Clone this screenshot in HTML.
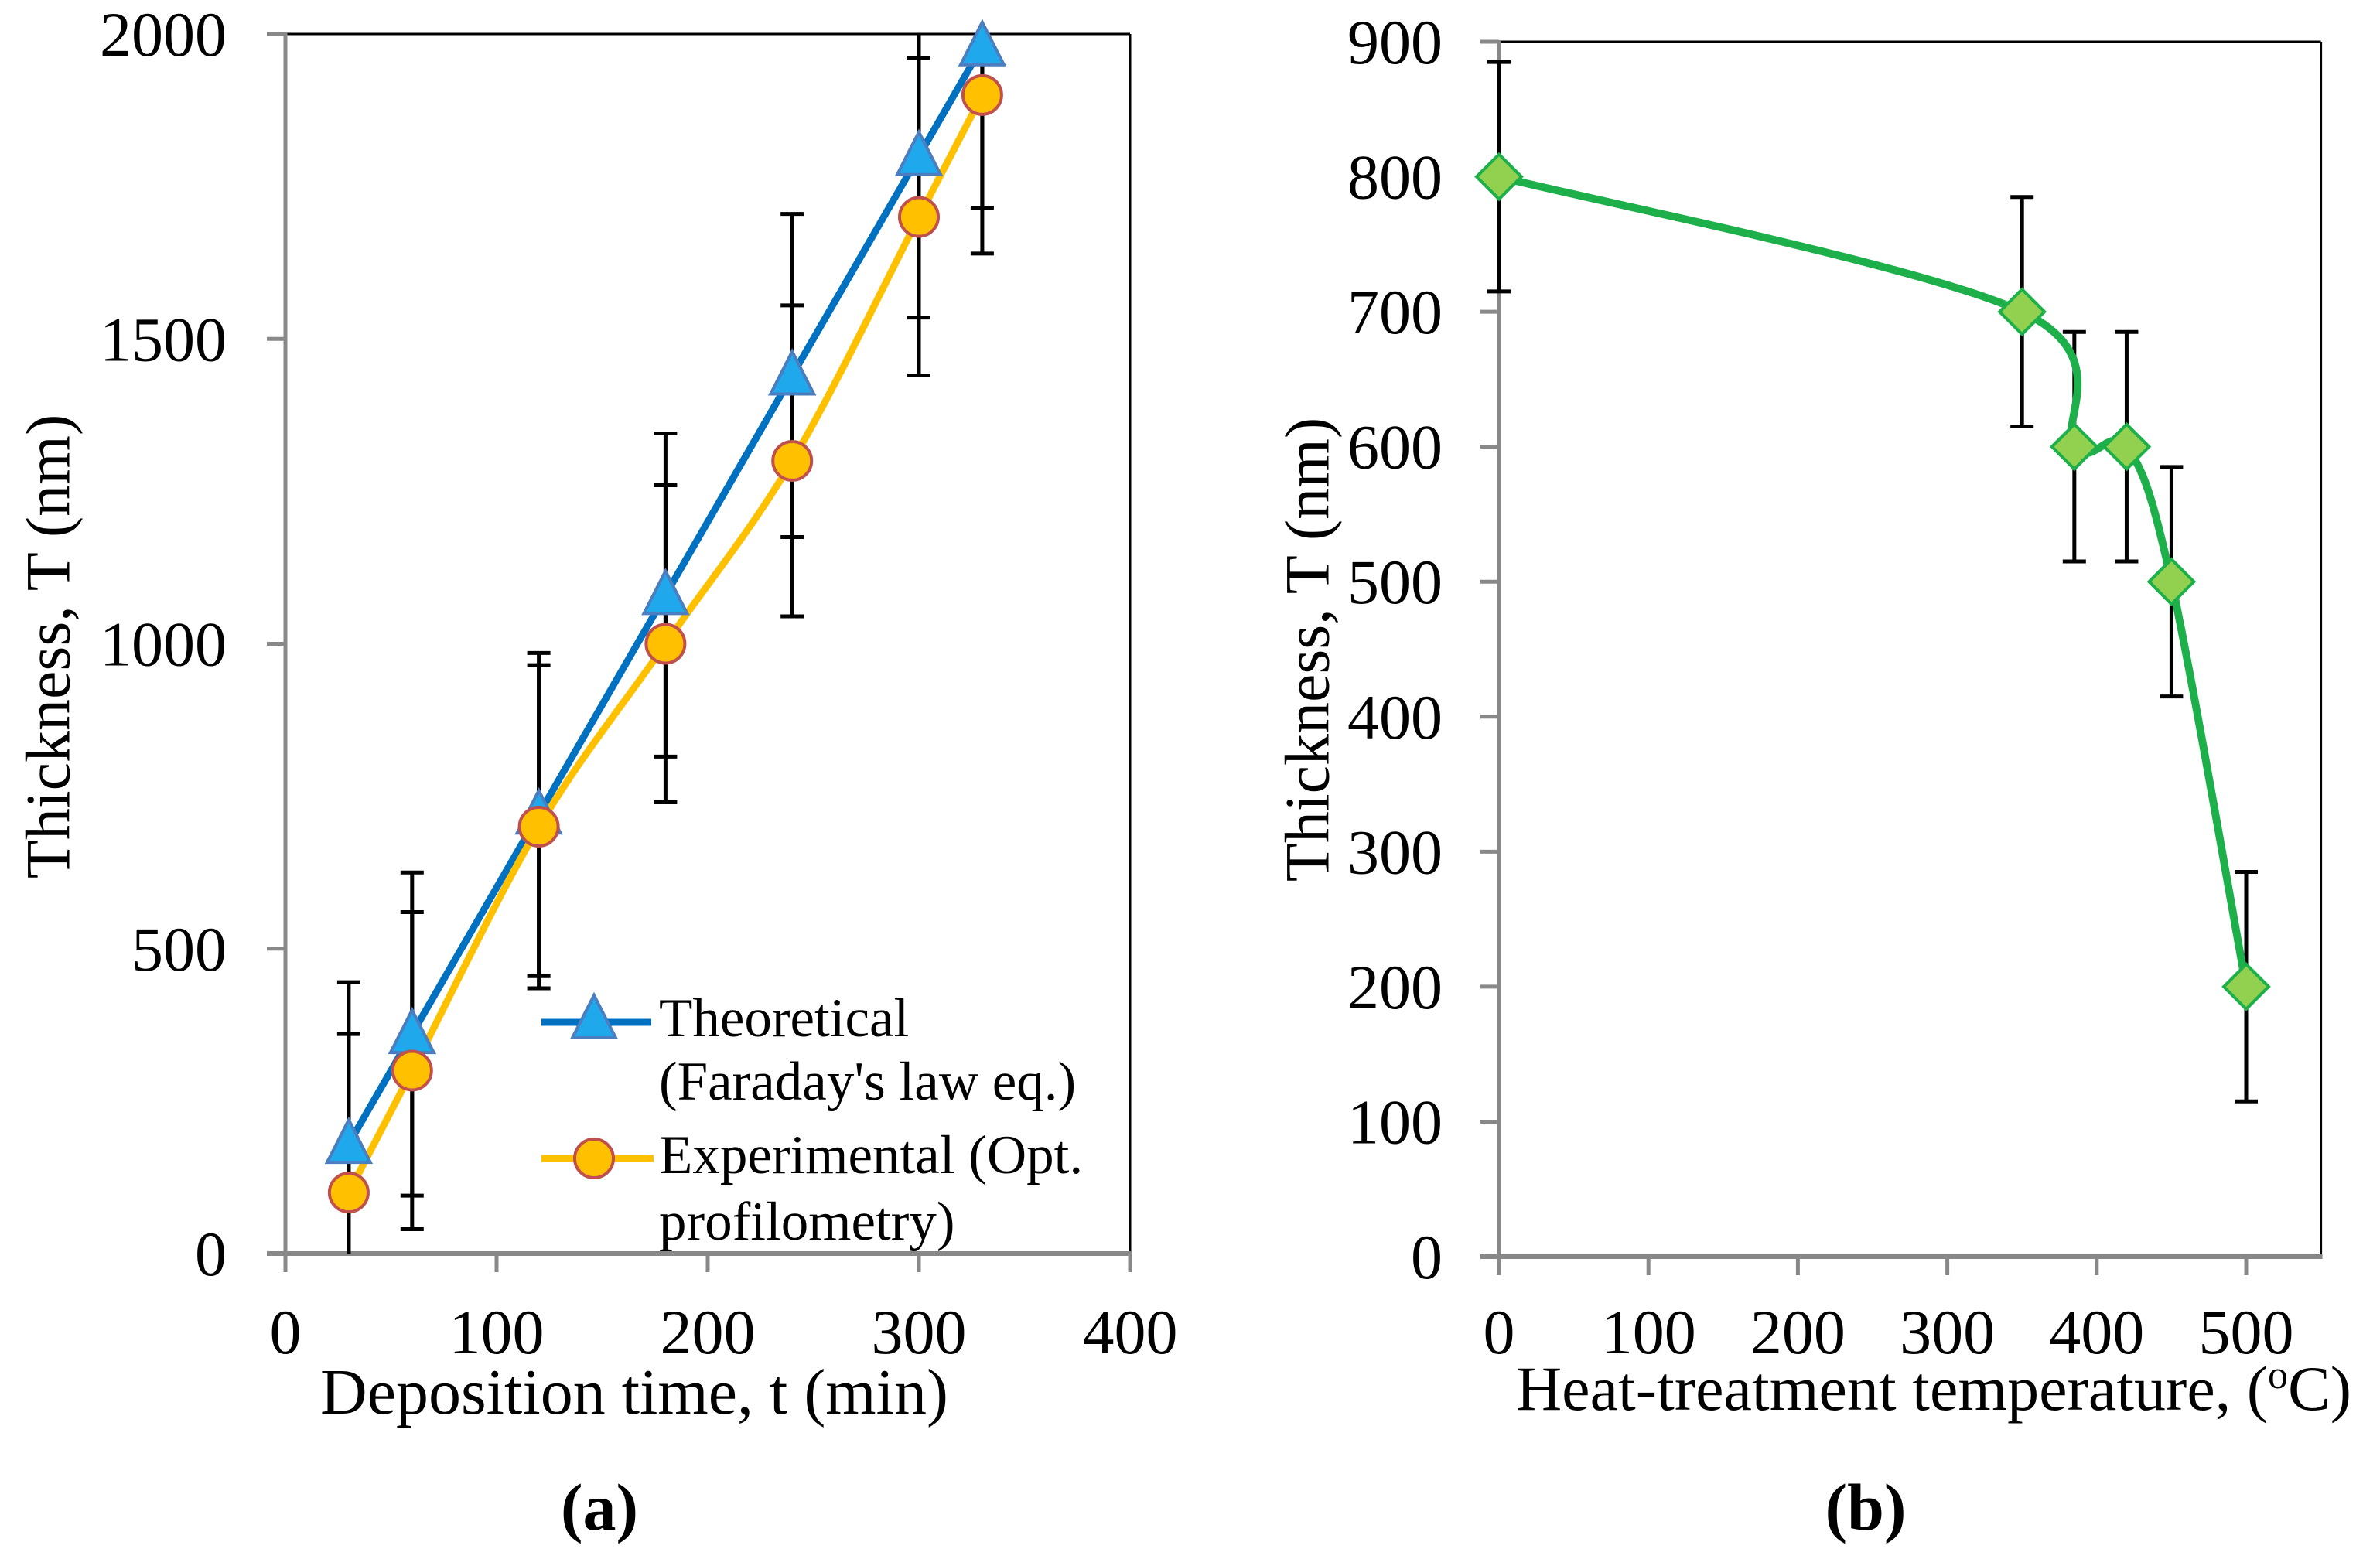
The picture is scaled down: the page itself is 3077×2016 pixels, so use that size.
<!DOCTYPE html>
<html><head><meta charset="utf-8"><style>
html,body{margin:0;padding:0;background:#fff;}
svg{display:block;font-family:"Liberation Serif",serif;}
</style></head><body>
<svg id="fig" width="3077" height="2016" viewBox="0 0 3077 2016" xmlns="http://www.w3.org/2000/svg">
<g id="chartA"></g>
<g id="chartB"></g>
</svg>
<script>
// ----- Chart (a) data -----
const aTimes = [30, 60, 120, 180, 240, 300, 330];
const aTheo = [180, 360, 720, 1080, 1440, 1800, 1980];
const aTheoErr = [265, 265, 265, 265, 265, 265, 265];
const aExp = [100, 300, 700, 1000, 1300, 1700, 1900];
const aExpErr = [260, 260, 265, 260, 255, 260, 260];
const aXTicks = [0, 100, 200, 300, 400];
const aYTicks = [0, 500, 1000, 1500, 2000];
// ----- Chart (b) data -----
const bTemps = [0, 350, 385, 420, 450, 500];
const bThick = [800, 700, 600, 600, 500, 200];
const bErr = [85, 85, 85, 85, 85, 85];
const bXTicks = [0, 100, 200, 300, 400, 500];
const bYTicks = [0, 100, 200, 300, 400, 500, 600, 700, 800, 900];

const NS = "http://www.w3.org/2000/svg";
function mk(parent, tag, attrs, text) {
  const e = document.createElementNS(NS, tag);
  for (const k in attrs) e.setAttribute(k, attrs[k]);
  if (text !== undefined) e.textContent = text;
  parent.appendChild(e);
  return e;
}
function smoothPath(pts) {
  let d = "M" + pts[0][0] + "," + pts[0][1];
  for (let i = 0; i < pts.length - 1; i++) {
    const p0 = pts[i - 1] || pts[i], p1 = pts[i], p2 = pts[i + 1], p3 = pts[i + 2] || p2;
    const c1 = [p1[0] + (p2[0] - p0[0]) / 6, p1[1] + (p2[1] - p0[1]) / 6];
    const c2 = [p2[0] - (p3[0] - p1[0]) / 6, p2[1] - (p3[1] - p1[1]) / 6];
    d += " C" + c1 + " " + c2 + " " + p2;
  }
  return d;
}
function drawAxes(g, o) {
  const {x, y, xTicks, yTicks, xmax, ymax} = o;
  let e;
  e = mk(g, "line", {x1: x(0), y1: y(ymax), x2: x(xmax), y2: y(ymax), stroke: "#000", "stroke-width": 3});
  
  
  e = mk(g, "line", {x1: x(xmax), y1: y(ymax), x2: x(xmax), y2: y(0), stroke: "#000", "stroke-width": 3});
  
  
  e = mk(g, "line", {x1: x(0), y1: y(ymax) - 2, x2: x(0), y2: y(0), stroke: "#888", "stroke-width": 5});
  
  
  e = mk(g, "line", {x1: x(0) - 24, y1: y(0), x2: x(xmax) + 2, y2: y(0), stroke: "#888", "stroke-width": 6});
  
  
  yTicks.forEach(v => {
    const t = mk(g, "line", {x1: x(0) - 24, y1: y(v), x2: x(0), y2: y(v), stroke: "#888", "stroke-width": 5});
    
    
    const l = mk(g, "text", {x: o.yLabelRight, y: y(v) + 28, "text-anchor": "end", "font-size": 82}, String(v));
    
    
  });
  xTicks.forEach(v => {
    const t = mk(g, "line", {x1: x(v), y1: y(0), x2: x(v), y2: y(0) + 24, stroke: "#888", "stroke-width": 5});
    
    
    const l = mk(g, "text", {x: x(v), y: 1750, "text-anchor": "middle", "font-size": 82}, String(v));
    
    
  });
}
function errBars(g, xs, ys, errs, x, y, ymin, ymax, name) {
  xs.forEach((xv, i) => {
    const top = ys[i] + errs[i], bot = ys[i] - errs[i];
    const yt = y(Math.min(top, ymax)), yb = y(Math.max(bot, ymin));
    const e = mk(g, "line", {x1: x(xv), y1: yt, x2: x(xv), y2: yb, stroke: "#000", "stroke-width": 5});
    
    
    if (top <= ymax) {
      const c = mk(g, "line", {x1: x(xv) - 15, y1: y(top), x2: x(xv) + 15, y2: y(top), stroke: "#000", "stroke-width": 5});
      
      
    }
    if (bot >= ymin) {
      const c = mk(g, "line", {x1: x(xv) - 15, y1: y(bot), x2: x(xv) + 15, y2: y(bot), stroke: "#000", "stroke-width": 5});
      
      
    }
  });
}
function tri(g, cx, cy, name) {
  const e = mk(g, "polygon", {points: (cx) + "," + (cy - 31) + " " + (cx - 28) + "," + (cy + 24) + " " + (cx + 28) + "," + (cy + 24), fill: "#1FA8EC", stroke: "#4A7EC0", "stroke-width": 4});
  
  
}
function circ(g, cx, cy, name) {
  const e = mk(g, "circle", {cx: cx, cy: cy, r: 25, fill: "#FFC000", stroke: "#C0504D", "stroke-width": 4});
  
  
}

// ===== Chart (a) =====
(function () {
  const g = document.getElementById("chartA");
  const x = v => 369 + v * 2.73;
  const y = v => 1621 - v * (1577 / 2000);
  drawAxes(g, {x, y, xTicks: aXTicks, yTicks: aYTicks, xmax: 400, ymax: 2000, yLabelRight: 293});
  errBars(g, aTimes, aTheo, aTheoErr, x, y, 0, 2000, 'theoretical-error-bar');
  errBars(g, aTimes, aExp, aExpErr, x, y, 0, 2000, 'experimental-error-bar');
  let p = mk(g, "path", {d: smoothPath(aTimes.map((t, i) => [x(t), y(aTheo[i])])), fill: "none", stroke: "#0070C0", "stroke-width": 9, "stroke-linejoin": "round"});
  
  
  p = mk(g, "path", {d: smoothPath(aTimes.map((t, i) => [x(t), y(aExp[i])])), fill: "none", stroke: "#FFC000", "stroke-width": 9, "stroke-linejoin": "round"});
  
  
  aTimes.forEach((t, i) => tri(g, x(t), y(aTheo[i]), 'theoretical-point'));
  aTimes.forEach((t, i) => circ(g, x(t), y(aExp[i]), 'experimental-point'));
  // legend
  const lg = mk(g, "g", {});
  
  
  let l = mk(lg, "line", {x1: 700, y1: 1322, x2: 842, y2: 1322, stroke: "#0070C0", "stroke-width": 9});
  
  
  tri(lg, 768, 1318, 'legend-theoretical-marker');
  l = mk(lg, "line", {x1: 700, y1: 1498, x2: 845, y2: 1498, stroke: "#FFC000", "stroke-width": 9});
  
  
  circ(lg, 768, 1498, 'legend-experimental-marker');
  const lt = [["Theoretical", 852, 1340], ["(Faraday's law eq.)", 852, 1422], ["Experimental (Opt.", 852, 1517], ["profilometry)", 852, 1603]];
  lt.forEach(a => {
    const t = mk(lg, "text", {x: a[1], y: a[2], "font-size": 71}, a[0]);
    
    
  });
  let t = mk(g, "text", {x: 62, y: 836, "text-anchor": "middle", "dominant-baseline": "central", "font-size": 82, transform: "rotate(-90 62 836)"}, "Thickness, T (nm)");
  
  
  t = mk(g, "text", {x: 820, y: 1828, "text-anchor": "middle", "font-size": 84}, "Deposition time, t (min)");
  
  
  t = mk(g, "text", {x: 775, y: 1978, "text-anchor": "middle", "font-size": 86, "font-weight": "bold"}, "(a)");
  
  
})();

// ===== Chart (b) =====
(function () {
  const g = document.getElementById("chartB");
  const x = v => 1938 + v * 1.932;
  const y = v => 1625 - v * (1571 / 900);
  drawAxes(g, {x, y, xTicks: bXTicks, yTicks: bYTicks, xmax: 550, ymax: 900, yLabelRight: 1865});
  errBars(g, bTemps, bThick, bErr, x, y, 0, 900, 'error-bar');
  const p = mk(g, "path", {d: smoothPath(bTemps.map((t, i) => [x(t), y(bThick[i])])), fill: "none", stroke: "#1DB04A", "stroke-width": 10, "stroke-linejoin": "round"});
  
  
  bTemps.forEach((t, i) => {
    const cx = x(t), cy = y(bThick[i]);
    const d = mk(g, "polygon", {points: cx + "," + (cy - 29) + " " + (cx + 29) + "," + cy + " " + cx + "," + (cy + 29) + " " + (cx - 29) + "," + cy, fill: "#92D050", stroke: "#1DB04A", "stroke-width": 4});
    
    
  });
  let t = mk(g, "text", {x: 1690, y: 840, "text-anchor": "middle", "dominant-baseline": "central", "font-size": 82, transform: "rotate(-90 1690 840)"}, "Thickness, T (nm)");
  
  
  t = mk(g, "text", {x: 2500, y: 1823, "text-anchor": "middle", "font-size": 82});
  
  
  t.appendChild(document.createTextNode("Heat-treatment temperature, ("));
  mk(t, "tspan", {"baseline-shift": "super", "font-size": 52}, "o");
  mk(t, "tspan", {}, "C)");
  t = mk(g, "text", {x: 2412, y: 1978, "text-anchor": "middle", "font-size": 86, "font-weight": "bold"}, "(b)");
  
  
})();
</script>
</body></html>
